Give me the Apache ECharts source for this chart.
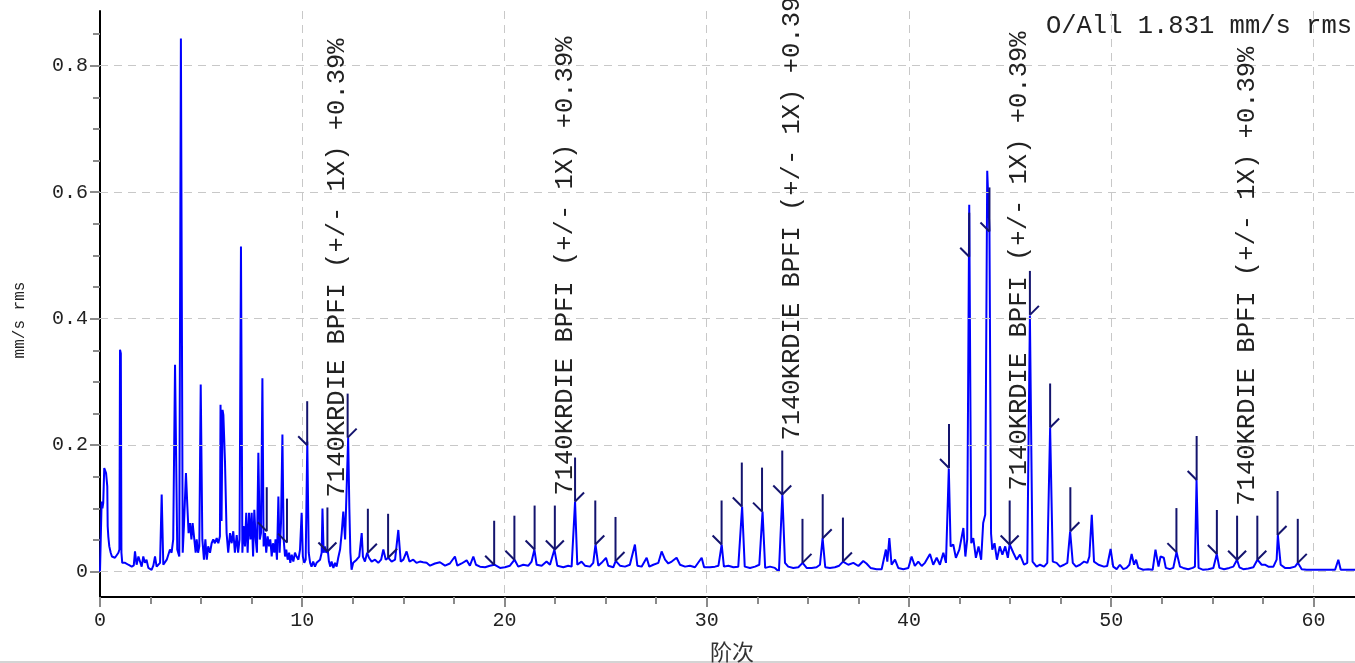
<!DOCTYPE html>
<html><head><meta charset="utf-8">
<script src="https://cdn.jsdelivr.net/npm/echarts@6/dist/echarts.min.js"></script>
<style>html,body{margin:0;padding:0;background:#fff}#c{width:1355px;height:663px}</style>
</head><body><div id="c"></div>
<script>
// Spectrum: [order, amplitude mm/s rms]
const spectrum = [
[0,0],[0.04,0],[0.08,0.111],[0.12,0.10],[0.16,0.109],[0.21,0.164],[0.3,0.156],[0.36,0.135],[0.38,0.072],[0.41,0.056],[0.46,0.04],[0.53,0.03],[0.59,0.024],[0.66,0.027],[0.74,0.022],[0.82,0.024],[0.91,0.03],[0.96,0.035],[0.99,0.351],[1.03,0.345],[1.06,0.03],[1.1,0.014],[1.24,0.014],[1.4,0.011],[1.57,0.008],[1.67,0.01],[1.73,0.032],[1.81,0.011],[1.9,0.024],[1.98,0.022],[2.06,0.008],[2.14,0.024],[2.22,0.014],[2.3,0.019],[2.39,0.006],[2.47,0.008],[2.55,0.003],[2.64,0.01],[2.72,0.024],[2.8,0.008],[2.88,0.006],[2.97,0.014],[3.05,0.122],[3.13,0.011],[3.21,0.014],[3.3,0.019],[3.38,0.02],[3.46,0.035],[3.54,0.03],[3.62,0.051],[3.71,0.327],[3.82,0.035],[3.92,0.024],[4.0,0.843],[4.09,0.03],[4.15,0.072],[4.25,0.156],[4.32,0.103],[4.38,0.061],[4.45,0.077],[4.52,0.051],[4.58,0.077],[4.66,0.077],[4.73,0.03],[4.78,0.051],[4.85,0.03],[4.91,0.04],[4.98,0.296],[5.06,0.051],[5.14,0.019],[5.21,0.051],[5.28,0.019],[5.35,0.04],[5.44,0.03],[5.52,0.045],[5.6,0.051],[5.68,0.045],[5.77,0.053],[5.85,0.045],[5.93,0.056],[5.96,0.264],[6.01,0.08],[6.06,0.256],[6.1,0.248],[6.18,0.174],[6.26,0.061],[6.34,0.03],[6.43,0.061],
[6.51,0.045],[6.59,0.064],[6.67,0.03],[6.76,0.058],[6.83,0.03],[6.9,0.051],[6.97,0.514],[7.04,0.03],[7.1,0.072],[7.17,0.04],[7.23,0.093],[7.3,0.03],[7.37,0.093],[7.44,0.051],[7.5,0.093],[7.57,0.024],[7.63,0.098],[7.7,0.051],[7.76,0.03],[7.83,0.188],[7.9,0.051],[7.96,0.061],[8.03,0.306],[8.09,0.04],[8.16,0.061],[8.22,0.03],[8.29,0.056],[8.36,0.04],[8.42,0.051],[8.49,0.024],[8.55,0.045],[8.62,0.03],[8.68,0.051],[8.75,0.019],[8.82,0.119],[8.88,0.03],[8.95,0.077],[9.02,0.217],[9.08,0.051],[9.15,0.024],[9.21,0.035],[9.28,0.019],[9.35,0.03],[9.41,0.014],[9.48,0.027],[9.56,0.016],[9.64,0.03],[9.72,0.024],[9.81,0.019],[9.89,0.035],[9.97,0.093],[10.03,0.024],[10.1,0.014],[10.17,0.019],[10.25,0.206],[10.32,0.03],[10.39,0.014],[10.46,0.008],[10.54,0.016],[10.63,0.008],[10.71,0.014],[10.8,0.011],[10.88,0.019],[10.96,0.03],[11.0,0.1],[11.06,0.03],[11.12,0.04],[11.19,0.03],[11.26,0.035],[11.32,0.016],[11.39,0.008],[11.45,0.016],[11.54,0.006],[11.62,0.014],[11.7,0.008],[11.78,0.022],[11.87,0.035],[11.95,0.061],[12.03,0.095],[12.12,0.051],[12.21,0.051],[12.27,0.212],[12.33,0.1],[12.38,0.03],[12.44,0.003],
[12.52,0.014],[12.69,0.019],[12.82,0.024],[12.94,0.061],[13.0,0.024],[13.1,0.016],[13.21,0.03],[13.3,0.022],[13.43,0.016],[13.6,0.019],[13.76,0.014],[13.9,0.019],[14.01,0.035],[14.13,0.019],[14.26,0.022],[14.42,0.016],[14.59,0.019],[14.75,0.066],[14.87,0.016],[15.0,0.019],[15.16,0.032],[15.3,0.016],[15.49,0.019],[15.65,0.014],[15.82,0.016],[15.98,0.015],[16.15,0.014],
[16.32,0.0095],[16.56,0.013],[16.81,0.015],[17.06,0.0095],[17.3,0.013],[17.55,0.024],[17.67,0.0095],[17.88,0.013],[18.13,0.018],[18.29,0.0095],[18.46,0.024],[18.59,0.011],[18.79,0.008],[19.04,0.007],[19.28,0.0095],[19.5,0.011],[19.78,0.006],[20.02,0.007],[20.27,0.0095],[20.5,0.019],[20.68,0.008],[20.93,0.011],[21.18,0.0095],[21.34,0.016],[21.48,0.035],[21.59,0.011],[21.84,0.0095],[22.08,0.016],[22.25,0.011],[22.47,0.035],[22.61,0.0095],[22.91,0.007],[23.15,0.0095],[23.32,0.008],[23.49,0.111],[23.6,0.011],[23.81,0.016],[23.98,0.0095],[24.23,0.008],[24.39,0.014],[24.5,0.043],[24.64,0.0095],[24.8,0.014],[25.02,0.022],[25.13,0.0095],[25.38,0.007],[25.5,0.017],[25.71,0.0095],[25.96,0.008],[26.2,0.011],[26.45,0.043],[26.57,0.0095],[26.78,0.008],[27.03,0.022],[27.16,0.008],[27.36,0.011],[27.61,0.014],[27.77,0.032],[27.94,0.019],[28.1,0.013],[28.27,0.016],[28.51,0.022],[28.68,0.011],[28.93,0.008],[29.17,0.0095],[29.42,0.007],[29.75,0.022],[29.87,0.007],[30.16,0.007],[30.41,0.008],[30.58,0.0095],[30.74,0.043],[30.85,0.008],[31.07,0.0095],[31.32,0.007],[31.56,0.008],[31.75,0.103],[31.88,0.008],[32.14,0.006],[32.39,0.008],[32.6,0.011],[32.76,0.095],[32.89,0.006],[33.13,0.008],[33.37,0.006],[33.57,0.0005],[33.74,0.122],[33.87,0.014],[34.03,0.008],[34.28,0.006],[34.53,0.007],[34.74,0.014],[34.94,0.006],[35.19,0.006],[35.43,0.007],[35.6,0.011],[35.73,0.053],[35.86,0.007],[36.09,0.006],[36.34,0.007],[36.55,0.0095],[36.74,0.016],[37.0,0.011],
[37.25,0.014],[37.5,0.009],[37.74,0.017],[37.9,0.013],[38.1,0.006],[38.4,0.004],[38.65,0.004],[38.86,0.035],[38.93,0.016],[39.03,0.053],[39.14,0.011],[39.31,0.019],[39.47,0.006],[39.72,0.004],[39.97,0.006],[40.13,0.024],[40.29,0.009],[40.46,0.016],[40.63,0.009],[40.79,0.014],[41.04,0.028],[41.2,0.011],[41.37,0.022],[41.53,0.011],[41.7,0.03],[41.83,0.014],[41.97,0.163],
[42.06,0.04],[42.19,0.043],[42.32,0.022],[42.49,0.035],[42.69,0.069],[42.79,0.024],[42.88,0.051],[42.98,0.58],[43.08,0.045],[43.18,0.053],[43.31,0.022],[43.44,0.04],[43.57,0.019],[43.67,0.077],[43.77,0.09],[43.87,0.634],[43.98,0.54],[44.06,0.06],[44.12,0.035],[44.23,0.045],[44.35,0.019],[44.49,0.04],[44.62,0.027],[44.76,0.04],[44.89,0.022],[44.98,0.043],[45.16,0.03],[45.32,0.019],[45.49,0.027],[45.69,0.011],[45.85,0.014],[45.98,0.405],[46.11,0.016],[46.31,0.008],[46.48,0.011],[46.68,0.008],[46.84,0.014],[46.98,0.228],[47.11,0.016],[47.3,0.014],[47.47,0.008],[47.67,0.011],[47.83,0.014],[47.97,0.064],[48.1,0.014],[48.26,0.008],[48.46,0.011],[48.66,0.016],[48.82,0.014],[48.92,0.024],[49.04,0.09],[49.15,0.016],[49.37,0.011],
[49.44,0.011],[49.64,0.008],[49.8,0.009],[49.97,0.036],[50.1,0.008],[50.27,0.004],[50.43,0.011],[50.6,0.004],[50.76,0.006],[50.9,0.011],[51.01,0.028],[51.13,0.011],[51.23,0.019],[51.34,0.006],[51.58,0.003],[51.83,0.004],[52.05,0.003],[52.19,0.035],[52.34,0.008],[52.44,0.024],[52.52,0.027],[52.6,0.022],[52.7,0.006],[52.9,0.004],[53.07,0.006],
[53.23,0.031],[53.4,0.008],[53.56,0.006],[53.81,0.004],[54.03,0.006],[54.14,0.008],[54.22,0.145],[54.32,0.006],[54.55,0.003],[54.8,0.004],[55.05,0.006],[55.22,0.028],[55.35,0.006],[55.58,0.004],[55.84,0.006],[56.04,0.008],[56.22,0.019],[56.34,0.007],[56.53,0.004],[56.78,0.005],[57.03,0.007],[57.23,0.019],[57.44,0.011],[57.6,0.011],[57.77,0.008],[58.02,0.008],[58.18,0.019],[58.24,0.058],[58.38,0.011],[58.59,0.006],[58.84,0.006],[59.09,0.008],[59.23,0.014],[59.42,0.004],[59.66,0.003],[60.16,0.003],[60.66,0.003],[61.07,0.003],[61.23,0.019],[61.35,0.003],[62.0,0.003],[62.5,0.003]
];

// BPFI harmonic cursors with +/- 1X sidebands
const markerOrders = [
  8.245, 9.245, 10.245, 11.245, 12.245, 13.245, 14.245,
  19.49, 20.49, 21.49, 22.49, 23.49, 24.49, 25.49,
  30.735, 31.735, 32.735, 33.735, 34.735, 35.735, 36.735,
  41.98, 42.98, 43.98, 44.98, 45.98, 46.98, 47.98,
  53.225, 54.225, 55.225, 56.225, 57.225, 58.225, 59.225
];
const markerLevels = [
  0.064, 0.046, 0.200, 0.032, 0.212, 0.030, 0.022,
  0.011, 0.019, 0.035, 0.035, 0.111, 0.043, 0.017,
  0.043, 0.103, 0.095, 0.122, 0.014, 0.053, 0.016,
  0.164, 0.498, 0.538, 0.043, 0.406, 0.228, 0.064,
  0.031, 0.145, 0.028, 0.019, 0.019, 0.058, 0.014
];
// -1 lower sideband, 0 harmonic, 1 upper sideband
const markerKinds = [
  -1,-1,-1,0,1,1,1,
  -1,-1,-1,0,1,1,1,
  -1,-1,-1,0,1,1,1,
  -1,-1,-1,0,1,1,1,
  -1,-1,-1,0,1,1,1
];
const cursorLabel = '7140KRDIE BPFI (+/- 1X) +0.39%';
const overallText = 'O/All 1.831 mm/s rms';
const xAxisName = '阶次';
const yAxisName = 'mm/s rms';
const yMajorTicks = [0, 0.2, 0.4, 0.6, 0.8];
const yMinorTicks = [0.05,0.1,0.15,0.25,0.3,0.35,0.45,0.5,0.55,0.65,0.7,0.75,0.85];
const gridLevels = [0, 0.2, 0.4, 0.6, 0.8];

const MONO = '"Liberation Mono", "DejaVu Sans Mono", monospace';
const NAVY = '#14146e';
const GRIDC = '#c8c8c8';

const markerData = markerOrders.map((o, i) => [o, markerLevels[i], markerKinds[i]]);

function renderMarker(params, api) {
  const p = api.coord([api.value(0), api.value(1)]);
  const kind = api.value(2);
  const x = p[0], y = p[1];
  const top = y - 44;
  const st = { stroke: NAVY, lineWidth: 2 };
  const children = [{ type: 'line', shape: { x1: x, y1: y, x2: x, y2: top }, style: st }];
  if (kind <= 0) children.push({ type: 'line', shape: { x1: x - 9, y1: y - 9, x2: x, y2: y }, style: st });
  if (kind >= 0) children.push({ type: 'line', shape: { x1: x, y1: y, x2: x + 9, y2: y - 9 }, style: st });
  if (kind === 0) {
    children.push({
      type: 'text', x: x + 10, y: top - 10, rotation: Math.PI / 2,
      style: { text: cursorLabel, font: '25.5px ' + MONO, fill: '#222', align: 'left', verticalAlign: 'middle' }
    });
  }
  return { type: 'group', children };
}

const chart = echarts.init(document.getElementById('c'), null, { renderer: 'canvas' });
chart.setOption({
  animation: false,
  backgroundColor: '#fff',
  grid: { left: 100, right: -9, top: 11, bottom: 66, containLabel: false, outerBoundsMode: 'none' },
  xAxis: {
    type: 'value', min: 0, max: 62.5, interval: 10,
    name: xAxisName, nameLocation: 'middle', nameGap: 44,
    nameTextStyle: { fontFamily: '"Noto Sans CJK SC"', fontSize: 22, color: '#333' },
    axisLine: { show: true, onZero: false, lineStyle: { color: '#000', width: 2 } },
    axisTick: { show: true, length: 10, lineStyle: { color: '#8a8a8a', width: 2 } },
    minorTick: { show: true, splitNumber: 4, length: 7, lineStyle: { color: '#8a8a8a', width: 2 } },
    axisLabel: { margin: 14, fontFamily: MONO, fontSize: 20, color: '#222',
      formatter: v => (v > 61 ? '' : String(v)) },
    splitLine: { show: true, lineStyle: { color: GRIDC, width: 1, type: [8, 6] } },
    minorSplitLine: { show: false }
  },
  yAxis: [
    {
      type: 'value', min: -0.04, max: 0.8865, position: 'left',
      axisLine: { show: true, lineStyle: { color: '#000', width: 2 } },
      axisTick: { show: true, length: 10, customValues: yMajorTicks, lineStyle: { color: '#8a8a8a', width: 2 } },
      axisLabel: { show: true, customValues: yMajorTicks, margin: 12, fontFamily: MONO, fontSize: 20, color: '#222',
        formatter: v => (Math.abs(v) < 1e-9 ? '0' : v.toFixed(1)) },
      splitLine: { show: false }
    },
    {
      type: 'value', min: -0.04, max: 0.8865, position: 'left', offset: 0,
      axisLine: { show: false },
      axisTick: { show: true, length: 7, customValues: yMinorTicks, lineStyle: { color: '#8a8a8a', width: 2 } },
      axisLabel: { show: false },
      splitLine: { show: false }
    }
  ],
  graphic: [
    { type: 'text', right: 3, top: 13, style: { text: overallText, font: '25.5px ' + MONO, fill: '#222' } },
    { type: 'text', x: 20, y: 320, rotation: Math.PI / 2,
      style: { text: yAxisName, font: '16px ' + MONO, fill: '#222', align: 'center', verticalAlign: 'middle' } },
    { type: 'rect', shape: { x: 0, y: 661, width: 1355, height: 2 }, style: { fill: '#d4d4d4' } }
  ],
  series: [
    {
      type: 'line', name: 'grid', data: [], z: 1, silent: true,
      markLine: {
        silent: true, symbol: 'none', label: { show: false },
        lineStyle: { color: GRIDC, width: 1, type: [8, 6] },
        data: gridLevels.map(v => ({ yAxis: v }))
      }
    },
    {
      type: 'line', name: 'spectrum', data: spectrum, showSymbol: false, symbol: 'none',
      lineStyle: { color: '#0000ff', width: 2 }, z: 3, clip: true
    },
    {
      type: 'custom', name: 'cursors', data: markerData, renderItem: renderMarker,
      encode: { x: 0, y: 1 }, z: 5, clip: false, silent: true
    }
  ]
});
</script>
</body></html>
